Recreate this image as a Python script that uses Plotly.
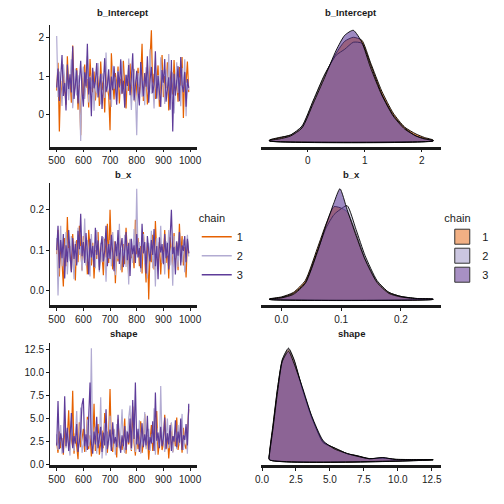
import plotly.graph_objects as go

# ---------------- data ----------------
iterations = list(range(500, 1000, 5))
chains = ["1", "2", "3"]
params = ["b_Intercept", "b_x", "shape"]

int_chain1 = [0.62, 1.35, -0.45, 0.88, 0.41, 1.10, 0.73, 0.25, 1.52, 0.66,
              0.95, 0.30, 1.80, 0.55, 0.84, 1.21, 0.12, 0.78, -0.55, 1.05,
              0.47, 1.30, 0.69, 0.92, 0.18, 1.45, 0.81, 0.58, 1.12, 0.36,
              0.74, 1.01, 0.22, 1.38, 0.63, 0.89, 0.05, 1.16, 0.71, 0.48,
              -0.42, 1.60, 0.85, 0.39, 1.08, 0.67, 1.25, 0.28, 0.93, 0.54,
              1.40, 0.76, 0.15, 1.02, 0.61, 1.33, 0.44, 0.87, 1.18, 0.32,
              0.70, 1.22, 0.50, 0.98, 1.85, 0.35, 0.82, 1.11, 0.26, 0.64,
              1.48, 2.20, 0.57, 1.06, 0.40, 0.91, 1.28, 0.20, 0.79, 1.55,
              0.45, 1.00, 0.68, 1.36, 0.10, 0.86, 1.14, 0.52, 1.42, 0.60,
              0.90, 0.33, 1.24, 0.75, 1.50, -0.10, 1.09, 0.83, 1.38, 0.58]
int_chain2 = [2.05, 0.45, 1.12, 0.70, 0.22, 1.31, 0.86, 0.58, 1.04, 0.37,
              0.92, 1.44, 0.16, 0.81, 1.20, 0.49, 1.02, 0.63, -0.70, 0.95,
              1.25, 0.40, 0.77, 1.52, 0.31, 0.99, 0.66, 1.16, 0.09, 0.84,
              0.55, 1.34, 0.72, 0.26, 1.07, 0.90, 0.43, 1.62, 0.60, 1.01,
              0.79, 0.19, 1.28, 0.67, 0.97, 0.34, 1.13, 0.74, 0.52, 1.39,
              0.88, 0.29, 1.05, 0.62, 1.46, 0.80, 0.11, 0.94, 1.19, 0.57,
              -0.55, 1.08, 0.71, 1.32, 0.46, 0.87, 0.24, 1.23, 0.65, 0.99,
              1.70, 0.54, 0.83, 0.15, 1.27, 0.69, 1.03, 0.38, 1.49, 0.76,
              0.93, 0.27, 1.17, 0.61, 1.58, 0.42, 0.85, 1.10, 0.02, 0.73,
              1.36, 0.56, 0.96, 0.21, 1.21, 0.68, 1.44, -0.05, 0.89, 0.64]
int_chain3 = [0.70, 1.20, 0.35, 0.95, 1.55, 0.48, 0.82, 0.10, 1.30, 0.66,
              1.05, 0.57, 1.78, 0.40, 0.90, 1.15, 0.28, 0.76, 1.40, 0.60,
              0.20, 1.10, 0.73, 1.85, 0.52, 0.97, -0.05, 1.22, 0.68, 0.86,
              1.34, 0.44, 0.80, 1.06, 0.14, 0.92, 1.47, 0.58, 0.75, 1.18,
              0.38, 0.99, 0.63, 1.26, 0.81, 0.25, 1.12, 0.70, 1.44, 0.54,
              0.88, 0.17, 1.03, 0.74, 1.29, 0.50, 0.94, 1.60, 0.36, 0.79,
              1.14, 0.61, 0.23, 1.37, 0.85, 0.47, 1.08, 0.72, 1.52, 0.30,
              0.90, 1.24, 0.55, 0.78, 1.65, 0.41, 1.00, 0.62, 0.19, 1.16,
              0.83, 1.45, 0.33, 0.66, 0.97, 0.12, 1.42, -0.45, 1.06, 0.49,
              0.87, 1.26, 0.34, 1.50, 0.77, 0.58, 1.11, 0.20, 0.92, 0.69]

bx_chain1 = [0.090, 0.150, 0.035, 0.120, 0.070, 0.010, 0.130, 0.060, 0.182, 0.085,
             0.110, 0.048, 0.140, 0.095, 0.025, 0.125, 0.070, 0.160, 0.088, 0.050,
             0.135, 0.075, 0.105, 0.040, 0.150, 0.092, 0.062, 0.118, 0.030, 0.100,
             0.078, 0.145, 0.058, 0.112, 0.090, 0.038, 0.128, 0.082, 0.165, 0.068,
             0.200, 0.095, 0.052, 0.122, 0.018, 0.108, 0.072, 0.140, 0.086, 0.045,
             0.115, 0.065, 0.155, 0.098, 0.035, 0.126, 0.080, 0.102, 0.055, 0.175,
             0.090, 0.130, 0.060, 0.110, 0.042, 0.145, 0.085, 0.020, 0.118, -0.022,
             0.100, 0.070, 0.138, 0.052, 0.172, 0.092, 0.062, 0.120, 0.040, 0.108,
             0.082, 0.150, 0.068, 0.112, 0.030, 0.132, 0.095, 0.058, 0.142, 0.075,
             0.118, 0.050, 0.165, 0.088, 0.135, 0.062, 0.108, 0.032, 0.125, 0.092]
bx_chain2 = [0.130, -0.012, 0.095, 0.160, 0.060, 0.115, 0.080, 0.145, 0.040, 0.105,
             0.072, 0.135, 0.092, 0.028, 0.122, 0.066, 0.155, 0.088, 0.110, 0.048,
             0.098, 0.178, 0.062, 0.125, 0.085, 0.035, 0.140, 0.076, 0.112, 0.055,
             0.150, 0.090, 0.045, 0.118, 0.070, 0.132, 0.100, 0.022, 0.108, 0.080,
             0.125, 0.060, 0.145, 0.092, 0.038, 0.115, 0.078, 0.165, 0.050, 0.102,
             0.085, 0.138, 0.058, 0.110, 0.015, 0.128, 0.094, 0.068, 0.152, 0.075,
             0.252, 0.082, 0.120, 0.046, 0.105, 0.140, 0.065, 0.098, 0.030, 0.118,
             0.088, 0.148, 0.055, 0.112, 0.010, 0.130, 0.078, 0.102, 0.160, 0.068,
             0.095, 0.040, 0.122, 0.086, 0.150, 0.062, 0.108, 0.012, 0.135, 0.080,
             0.112, 0.058, 0.145, 0.090, 0.070, 0.126, 0.045, 0.102, 0.138, 0.084]
bx_chain3 = [0.100, 0.160, 0.055, 0.125, 0.080, 0.140, 0.030, 0.112, 0.070, 0.150,
             0.092, 0.045, 0.130, 0.078, 0.115, 0.062, 0.148, 0.102, 0.190, 0.085,
             0.120, 0.068, 0.142, 0.095, 0.040, 0.128, 0.082, 0.110, 0.058, 0.155,
             0.088, 0.124, 0.050, 0.105, 0.135, 0.072, 0.098, 0.160, 0.060, 0.115,
             0.078, 0.138, 0.095, 0.048, 0.122, 0.085, 0.150, 0.066, 0.108, 0.130,
             0.058, 0.100, 0.145, 0.075, 0.118, 0.036, 0.128, 0.090, 0.112, 0.068,
             0.140, 0.082, 0.105, 0.055, 0.165, 0.092, 0.120, 0.042, 0.135, 0.098,
             0.072, 0.125, 0.088, 0.152, 0.060, 0.110, 0.028, 0.132, 0.094, 0.115,
             0.065, 0.140, 0.080, 0.118, 0.052, 0.128, 0.200, 0.090, 0.108, 0.040,
             0.122, 0.086, 0.145, 0.062, 0.112, 0.098, 0.135, 0.070, 0.128, 0.092]

shape_chain1 = [2.4, 1.3, 3.6, 1.8, 2.9, 1.1, 4.2, 2.0, 3.0, 5.9,
                1.6, 2.7, 8.0, 1.2, 3.4, 2.2, 0.6, 4.6, 1.9, 2.8,
                3.9, 1.4, 2.5, 5.2, 1.7, 3.2, 0.9, 2.3, 6.6, 1.5,
                2.9, 4.4, 1.1, 2.6, 3.7, 1.8, 5.6, 2.1, 1.3, 3.3,
                8.2, 2.0, 1.4, 3.8, 2.5, 0.8, 4.9, 1.9, 3.0, 1.6,
                2.7, 5.0, 1.2, 3.5, 2.2, 4.1, 1.5, 6.3, 2.4, 1.0,
                3.6, 1.7, 2.9, 4.7, 1.3, 2.3, 5.5, 1.9, 3.2, 0.55,
                2.6, 4.3, 1.5, 3.0, 2.1, 5.8, 1.1, 2.8, 3.9, 1.6,
                2.3, 5.4, 1.8, 3.4, 0.7, 2.7, 4.5, 1.4, 3.1, 2.0,
                5.1, 1.6, 2.5, 3.7, 1.3, 4.0, 2.2, 1.7, 3.3, 6.0]
shape_chain2 = [3.3, 1.6, 2.6, 4.3, 1.2, 2.9, 5.0, 1.8, 3.5, 2.1,
                1.0, 4.7, 2.4, 1.5, 3.1, 5.8, 1.9, 2.7, 6.2, 1.3,
                2.2, 3.8, 1.4, 4.9, 2.0, 3.0, 12.6, 1.7, 2.8, 4.1,
                1.2, 3.4, 2.3, 7.3, 0.7, 2.9, 4.5, 1.0, 3.6, 2.1,
                5.3, 1.5, 2.6, 3.9, 1.1, 4.4, 2.4, 1.8, 3.2, 6.0,
                2.0, 1.3, 3.7, 2.5, 5.1, 6.4, 1.6, 2.9, 4.2, 1.4,
                3.0, 2.2, 4.8, 1.2, 3.5, 2.0, 5.7, 1.7, 2.7, 3.9,
                1.5, 3.3, 2.4, 6.1, 1.1, 4.0, 2.6, 1.9, 8.5, 2.2,
                3.6, 1.4, 2.8, 5.0, 1.8, 3.2, 4.6, 1.3, 2.5, 3.8,
                1.7, 4.3, 2.1, 3.0, 5.5, 1.6, 2.7, 4.1, 1.2, 6.4]
shape_chain3 = [2.1, 6.9, 1.7, 3.4, 2.5, 1.3, 7.4, 2.0, 4.0, 1.5,
                2.8, 5.6, 1.8, 3.1, 2.3, 4.4, 1.4, 2.6, 3.7, 6.5,
                7.2, 2.0, 3.3, 1.6, 4.8, 8.9, 2.4, 1.2, 3.6, 2.2,
                5.2, 1.8, 2.9, 4.1, 1.4, 3.5, 2.1, 6.0, 1.7, 2.7,
                3.8, 1.5, 4.6, 2.3, 3.0, 1.9, 5.4, 2.5, 1.3, 3.2,
                2.0, 4.2, 1.6, 3.6, 2.4, 5.0, 1.8, 7.0, 2.8, 8.9,
                2.2, 3.9, 1.4, 2.7, 4.5, 1.9, 3.3, 2.1, 5.3, 1.6,
                3.0, 2.3, 4.7, 1.5, 7.8, 2.6, 3.5, 1.8, 4.1, 2.0,
                2.9, 5.1, 1.7, 3.4, 2.2, 4.3, 1.5, 3.1, 2.5, 4.8,
                1.9, 3.6, 2.4, 5.0, 1.6, 3.2, 2.7, 4.4, 2.1, 6.6]

# density curves (x grid and density for each chain)
int_grid = [-0.67, -0.5, -0.3, -0.1, 0.1, 0.3, 0.5, 0.65, 0.8, 0.95, 1.1, 1.3, 1.5, 1.7, 1.9, 2.05, 2.2]
int_dens1 = [0.01, 0.035, 0.06, 0.14, 0.40, 0.66, 0.88, 1.00, 1.04, 1.01, 0.79, 0.50, 0.28, 0.14, 0.07, 0.035, 0.01]
int_dens2 = [0.008, 0.03, 0.06, 0.15, 0.41, 0.67, 0.86, 0.92, 0.99, 0.98, 0.77, 0.47, 0.26, 0.13, 0.05, 0.025, 0.005]
int_dens3 = [0.005, 0.02, 0.05, 0.13, 0.38, 0.64, 0.91, 1.06, 1.11, 0.99, 0.74, 0.46, 0.25, 0.12, 0.05, 0.02, 0.005]

bx_grid = [-0.02, 0.0, 0.02, 0.04, 0.06, 0.075, 0.088, 0.098, 0.11, 0.125, 0.14, 0.16, 0.18, 0.20, 0.225, 0.254]
bx_dens1 = [0.05, 0.25, 0.7, 1.9, 5.1, 7.6, 9.3, 9.2, 8.8, 6.6, 4.1, 1.8, 0.7, 0.3, 0.1, 0.03]
bx_dens2 = [0.03, 0.2, 0.6, 1.7, 4.8, 7.2, 8.5, 9.0, 9.4, 7.0, 4.4, 1.9, 0.7, 0.3, 0.1, 0.02]
bx_dens3 = [0.03, 0.15, 0.5, 1.6, 4.7, 7.5, 9.7, 11.1, 9.0, 6.4, 4.0, 1.7, 0.6, 0.25, 0.08, 0.03]

shape_grid = [0.55, 0.8, 1.15, 1.5, 1.95, 2.35, 2.95, 3.65, 4.5, 5.3, 6.3, 7.0, 7.9, 8.9, 9.8, 11.0, 12.6]
shape_dens1 = [0.021, 0.102, 0.216, 0.297, 0.330, 0.297, 0.213, 0.126, 0.054, 0.036, 0.018, 0.012, 0.0036, 0.0045, 0.0015, 0.0006, 0.0003]
shape_dens2 = [0.018, 0.096, 0.213, 0.300, 0.333, 0.300, 0.216, 0.129, 0.051, 0.036, 0.018, 0.012, 0.003, 0.006, 0.0012, 0.0006, 0.0003]
shape_dens3 = [0.015, 0.090, 0.204, 0.294, 0.324, 0.288, 0.219, 0.132, 0.057, 0.033, 0.018, 0.0105, 0.003, 0.0066, 0.0009, 0.0003, 0.0001]

trace_data = [[int_chain1, int_chain2, int_chain3],
              [bx_chain1, bx_chain2, bx_chain3],
              [shape_chain1, shape_chain2, shape_chain3]]
dens_grids = [int_grid, bx_grid, shape_grid]
dens_data = [[int_dens1, int_dens2, int_dens3],
             [bx_dens1, bx_dens2, bx_dens3],
             [shape_dens1, shape_dens2, shape_dens3]]

# ---------------- style ----------------
line_colors = ["#e66101", "#b2abd2", "#5e3c99"]
fill_colors = ["rgba(230,97,1,0.65)", "rgba(178,171,210,0.45)", "rgba(94,60,153,0.6)"]
legend_fills = ["#f2b084", "#cbc6e0", "#a890c4"]
FONT = "Liberation Sans, Arial, sans-serif"
TXT = "#1a1a1a"
W = H = 504

rows_px = [(25, 148), (185, 308), (346, 470)]
trace_x_px = (45, 195)
dens_x_px = (261, 445)
title_y_px = [13, 176, 337]
y_dticks = [1, 0.1, 2.5]
y_fmts = ["d", ".1f", ".1f"]


def ydom(p):
    return [1 - p[1] / H, 1 - p[0] / H]


def xdom(p):
    return [p[0] / W, p[1] / W]


fig = go.Figure()
layout = {}
annotations = []

for r in range(3):
    tx = 2 * r + 1
    dx = 2 * r + 2
    txn = "x" if tx == 1 else f"x{tx}"
    tyn = "y" if tx == 1 else f"y{tx}"
    dxn = f"x{dx}"
    dyn = f"y{dx}"

    # trace plot
    for c in range(3):
        fig.add_trace(go.Scatter(
            x=iterations, y=trace_data[r][c], mode="lines",
            line=dict(color=line_colors[c], width=1.2),
            xaxis=txn, yaxis=tyn, showlegend=False, hoverinfo="skip"))
    allv = [v for ch in trace_data[r] for v in ch]
    lo, hi = min(allv), max(allv)
    pad = 0.05 * (hi - lo)

    # density plot
    grid = dens_grids[r]
    dmax = 0
    for c in range(3):
        d = dens_data[r][c]
        dmax = max(dmax, max(d))
        fig.add_trace(go.Scatter(
            x=[grid[0]] + grid + [grid[-1], grid[0]],
            y=[0] + d + [0, 0],
            mode="lines", fill="toself", fillcolor=fill_colors[c],
            line=dict(color="black", width=0.9, shape="spline", smoothing=0.6),
            xaxis=dxn, yaxis=dyn, showlegend=False, hoverinfo="skip"))
    g_lo, g_hi = min(grid), max(grid)
    gpad = 0.05 * (g_hi - g_lo)

    axis_common = dict(showgrid=False, zeroline=False, ticks="outside", ticklen=3,
                       tickwidth=1, tickcolor=TXT, showline=True, linecolor=TXT,
                       tickfont=dict(size=10, color=TXT, family=FONT), fixedrange=True)
    layout["xaxis" if tx == 1 else f"xaxis{tx}"] = dict(
        axis_common, domain=xdom(trace_x_px), range=[475, 1025],
        tickvals=[500, 600, 700, 800, 900, 1000], linewidth=2.5, anchor=tyn)
    layout["yaxis" if tx == 1 else f"yaxis{tx}"] = dict(
        axis_common, domain=ydom(rows_px[r]), range=[lo - pad, hi + pad],
        tick0=0, dtick=y_dticks[r], tickformat=y_fmts[r], linewidth=1, anchor=txn)
    layout[f"xaxis{dx}"] = dict(
        axis_common, domain=xdom(dens_x_px), range=[g_lo - gpad, g_hi + gpad],
        tick0=0, dtick=y_dticks[r], tickformat=y_fmts[r], linewidth=2.5, anchor=dyn)
    layout[f"yaxis{dx}"] = dict(
        domain=ydom(rows_px[r]), range=[-0.05 * dmax, 1.05 * dmax], visible=False,
        fixedrange=True, anchor=dxn)

    for xp in (trace_x_px, dens_x_px):
        annotations.append(dict(
            text=f"<b>{params[r]}</b>", x=(xp[0] + xp[1]) / 2 / W, y=1 - title_y_px[r] / H,
            xref="paper", yref="paper", showarrow=False, xanchor="center", yanchor="middle",
            font=dict(size=9.5, color=TXT, family=FONT)))

# legend entries
for c in range(3):
    fig.add_trace(go.Scatter(
        x=[None], y=[None], mode="lines", name=chains[c],
        line=dict(color=line_colors[c], width=1.6), legend="legend",
        xaxis="x", yaxis="y", hoverinfo="skip"))
for c in range(3):
    fig.add_trace(go.Scatter(
        x=[None], y=[None], mode="markers", name=chains[c],
        marker=dict(symbol="square", size=15, color=legend_fills[c],
                    line=dict(color="#333333", width=1)),
        legend="legend2", xaxis="x2", yaxis="y2", hoverinfo="skip"))

fig.update_layout(
    width=W, height=H, margin=dict(l=0, r=0, t=0, b=0),
    paper_bgcolor="white", plot_bgcolor="white",
    font=dict(family=FONT, color=TXT),
    annotations=annotations,
    legend=dict(x=195 / W, y=1 - 210 / H, xanchor="left", yanchor="top",
                title=dict(text="chain", font=dict(size=11, color=TXT)),
                font=dict(size=11, color=TXT), bgcolor="rgba(0,0,0,0)",
                itemwidth=30, tracegroupgap=0),
    legend2=dict(x=446 / W, y=1 - 210 / H, xanchor="left", yanchor="top",
                 title=dict(text="chain", font=dict(size=11, color=TXT)),
                 font=dict(size=11, color=TXT), bgcolor="rgba(0,0,0,0)",
                 itemsizing="trace", tracegroupgap=0),
    **layout,
)

fig.write_html(
    "out.html",
    config={"displayModeBar": False},
    post_script="document.body.style.margin='0';document.body.style.padding='0';"
                "document.documentElement.style.overflow='hidden';",
)
